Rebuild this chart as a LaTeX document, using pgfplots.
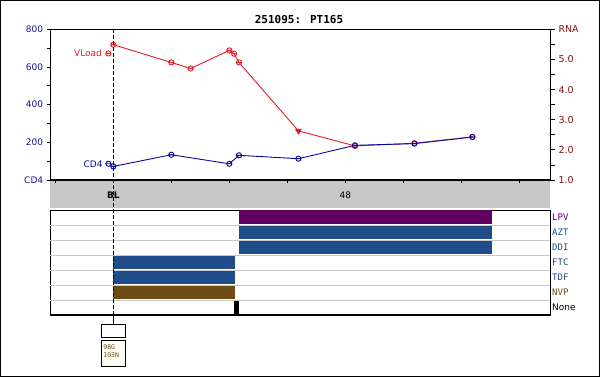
\documentclass[border=0pt]{standalone}
\usepackage{pgfplots}
\pgfplotsset{compat=1.18}
\usepackage{fontspec}
\setmainfont{DejaVu Sans}
\newfontfamily\monofont{DejaVu Sans Mono}
\definecolor{cdblue}{RGB}{10,10,150}
\definecolor{cdlab}{RGB}{20,20,140}
\definecolor{vlred}{RGB}{225,30,40}
\definecolor{rnalab}{RGB}{130,20,20}
\definecolor{lpv}{RGB}{96,0,96}
\definecolor{nrti}{RGB}{32,77,138}
\definecolor{nvp}{RGB}{110,74,20}
\definecolor{bandgray}{RGB}{200,200,200}
\definecolor{gridgray}{RGB}{200,200,200}
\definecolor{mutbrown}{RGB}{110,80,30}
\definecolor{cream}{RGB}{255,252,242}
\pgfdeclareplotmark{ominus}{%
  \pgfpathcircle{\pgfpointorigin}{\pgfplotmarksize}%
  \pgfpathmoveto{\pgfqpoint{-\pgfplotmarksize}{0pt}}%
  \pgfpathlineto{\pgfqpoint{\pgfplotmarksize}{0pt}}%
  \pgfusepathqstroke}
\begin{document}
\begin{tikzpicture}
\fill[white] (0pt,0pt) rectangle (600pt,377pt);
\fill[bandgray] (49.5pt,169pt) rectangle (550pt,197pt);
\node[font=\monofont\bfseries\fontsize{11}{12}\selectfont, anchor=base] at (299pt,353pt) {251095: PT165};
% RNA axis (right)
\begin{axis}[at={(50pt,197pt)}, anchor=south west, scale only axis,
  width=500pt, height=150.7pt, xmin=-13.1, xmax=90.35, ymin=1, ymax=6,
  axis line style={draw=none}, xtick=\empty, ytick pos=right,
  ytick={1,2,3,4,5,6}, yticklabels={1.0,2.0,3.0,4.0,5.0,RNA},
  minor ytick={1.5,2.5,3.5,4.5,5.5},
  tick align=outside, major tick length=5pt, minor tick length=5pt,
  tick style={black, line width=0.8pt},
  yticklabel style={font=\fontsize{9.5}{10}\selectfont, text=rnalab},
  clip=false]
\addplot[vlred, line width=0.9pt, mark=ominus, mark size=2.6pt,
  mark indices={1,2,3,4,5,6,8,9,10}] coordinates {
  (0,5.49) (12,4.90) (16,4.70) (24,5.30) (25,5.19) (26,4.90)
  (38.3,2.63) (50,2.13) (62.3,2.22) (74.3,2.43)};
\addplot[vlred, only marks, mark=triangle*, mark size=3.5pt,
  mark options={rotate=180}] coordinates {(38.3,2.63)};
\addplot[vlred, only marks, line width=0.9pt, mark=ominus, mark size=2.6pt] coordinates {(-1.03,5.20)};
\node[anchor=east, inner sep=0pt, text=vlred, font=\fontsize{9}{10}\selectfont]
  at ([xshift=-6.2pt]axis cs:-1.03,5.20) {VLoad};
\end{axis}
% CD4 axis (left)
\begin{axis}[at={(50pt,197pt)}, anchor=south west, scale only axis,
  width=500pt, height=150.7pt, xmin=-13.1, xmax=90.35, ymin=0, ymax=800,
  clip=false,
  xtick={-12,0,12,24,36,48,60,72,84}, xticklabels={,,,,,,,,}, xtick pos=lower, ytick pos=left,
  ytick={0,200,400,600,800}, yticklabels={CD4,200,400,600,800},
  minor ytick={100,300,500,700},
  tick align=outside, major tick length=3.3pt, minor tick length=3.3pt,
  tick style={black, line width=0.8pt},
  axis line style={line width=0.9pt},
  yticklabel style={font=\fontsize{9}{10}\selectfont, text=cdlab}]
\addplot[cdblue, line width=0.9pt, mark=ominus, mark size=2.6pt] coordinates {
  (0,72) (12,134) (24,86) (26,131) (38.3,113) (50,184) (62.3,193) (74.3,228)};
\addplot[cdblue, only marks, line width=0.9pt, mark=ominus, mark size=2.6pt] coordinates {(-1.03,86)};
\node[anchor=east, inner sep=0pt, text=cdblue, font=\fontsize{9}{10}\selectfont]
  at ([xshift=-5.6pt]axis cs:-1.03,86) {CD4};
\draw[line width=2pt] (rel axis cs:0,0) -- (rel axis cs:1,0);
\node[anchor=base, inner sep=0pt, font=\bfseries\fontsize{9}{10}\selectfont]
  at ([yshift=-18.3pt]axis cs:0,0) {BL};
\node[anchor=base, inner sep=0pt, font=\fontsize{9}{10}\selectfont]
  at ([yshift=-18.3pt]axis cs:48,0) {48};
\coordinate (bltop) at (axis cs:0,800);
\coordinate (blbot) at (axis cs:0,0);
\end{axis}
% treatment panel
\begin{axis}[at={(50pt,62pt)}, anchor=south west, scale only axis,
  width=500pt, height=105pt, xmin=-13.1, xmax=90.35, ymin=0, ymax=7,
  xtick=\empty, ytick pos=right,
  ytick={0.5,1.5,2.5,3.5,4.5,5.5,6.5},
  yticklabels={\textcolor{black}{None},
    \textcolor{nvp}{\monofont NVP}, \textcolor{nrti}{\monofont TDF},
    \textcolor{nrti}{\monofont FTC}, \textcolor{nrti}{\monofont DDI},
    \textcolor{nrti}{\monofont AZT}, \textcolor{lpv}{\monofont LPV}},
  major tick length=0pt,
  extra y ticks={1,2,3,4,5,6}, extra y tick labels={},
  extra y tick style={grid=major, major grid style={gridgray, line width=0.9pt}, major tick length=0pt},
  yticklabel style={font=\fontsize{9}{10}\selectfont, inner sep=2pt},
  axis line style={line width=0.9pt}]
\addplot[fill=lpv, draw=none] coordinates {(26,6.04) (78.35,6.04) (78.35,7) (26,7)};
\addplot[fill=nrti, draw=none] coordinates {(26,5.04) (78.35,5.04) (78.35,5.96) (26,5.96)};
\addplot[fill=nrti, draw=none] coordinates {(26,4.04) (78.35,4.04) (78.35,4.96) (26,4.96)};
\addplot[fill=nrti, draw=none] coordinates {(0,3.04) (25.2,3.04) (25.2,3.96) (0,3.96)};
\addplot[fill=nrti, draw=none] coordinates {(0,2.04) (25.2,2.04) (25.2,2.96) (0,2.96)};
\addplot[fill=nvp, draw=none] coordinates {(0,1.04) (25.2,1.04) (25.2,1.96) (0,1.96)};
\addplot[fill=black, draw=none] coordinates {(25,0) (26.1,0) (26.1,0.96) (25,0.96)};
\draw[line width=1.6pt] (rel axis cs:0,0) -- (rel axis cs:1,0);
\end{axis}
\draw[dash pattern=on 4pt off 2pt, line width=0.8pt] (bltop) -- ([yshift=-135pt]blbot);
\draw[line width=0.8pt] ([yshift=-135pt]blbot) -- ([yshift=-144.3pt]blbot);
\draw[fill=white, line width=0.8pt] (101.7pt,39.7pt) rectangle (125.7pt,52.7pt);
\draw[fill=cream, line width=0.8pt] (101.7pt,10.3pt) rectangle (125.7pt,36.7pt);
\node[anchor=base west, inner sep=0pt, text=mutbrown, font=\monofont\fontsize{6.5}{7}\selectfont]
  at (103.2pt,27.7pt) {98G};
\node[anchor=base west, inner sep=0pt, text=mutbrown, font=\monofont\fontsize{6.5}{7}\selectfont]
  at (103.2pt,19.3pt) {103N};
\draw[line width=1pt] (0.5pt,0.5pt) rectangle (599.5pt,376.5pt);
\pgfresetboundingbox
\useasboundingbox (0pt,0pt) rectangle (600pt,377pt);
\end{tikzpicture}
\end{document}
